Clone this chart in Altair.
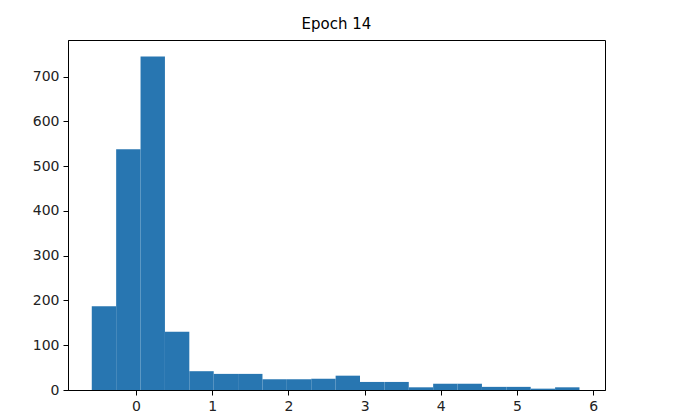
import altair as alt
import pandas as pd

bin_left = [-0.58, -0.26, 0.06, 0.38, 0.70, 1.02, 1.34, 1.66, 1.98, 2.30,
            2.62, 2.94, 3.26, 3.58, 3.90, 4.22, 4.54, 4.86, 5.18, 5.50]
bin_right = [-0.26, 0.06, 0.38, 0.70, 1.02, 1.34, 1.66, 1.98, 2.30, 2.62,
             2.94, 3.26, 3.58, 3.90, 4.22, 4.54, 4.86, 5.18, 5.50, 5.82]
counts = [187, 538, 745, 130, 42, 36, 36, 24, 24, 25,
          32, 18, 18, 6, 14, 14, 7, 7, 3, 6]
x_ticks = [0, 1, 2, 3, 4, 5, 6]
y_ticks = [0, 100, 200, 300, 400, 500, 600, 700]

df = pd.DataFrame({"left": bin_left, "right": bin_right, "count": counts})

chart = alt.Chart(df).mark_rect(color="#2876b1").encode(
    x=alt.X("left:Q", scale=alt.Scale(domain=[-0.892, 6.155], nice=False, zero=False),
            axis=alt.Axis(values=x_ticks, title=None, format="d")),
    x2="right:Q",
    y=alt.Y("count:Q", scale=alt.Scale(domain=[0, 782], nice=False),
            axis=alt.Axis(values=y_ticks, title=None, format="d")),
    y2=alt.datum(0),
).properties(
    width=537, height=350,
    title=alt.TitleParams("Epoch 14", font="DejaVu Sans", fontSize=15,
                          fontWeight="normal", color="#000000", offset=8),
    autosize=alt.AutoSizeParams(type="none"),
    padding={"left": 60, "top": 32, "right": 60, "bottom": 28},
).configure_view(
    stroke="#000000", strokeWidth=1
).configure_axis(
    grid=False, domainColor="#000000", tickColor="#000000", tickSize=5,
    labelFont="DejaVu Sans", labelFontSize=14, labelColor="#222222",
    labelPadding=4, domainWidth=1
)

chart.save("out.html", embed_options={"renderer": "svg", "actions": False})
